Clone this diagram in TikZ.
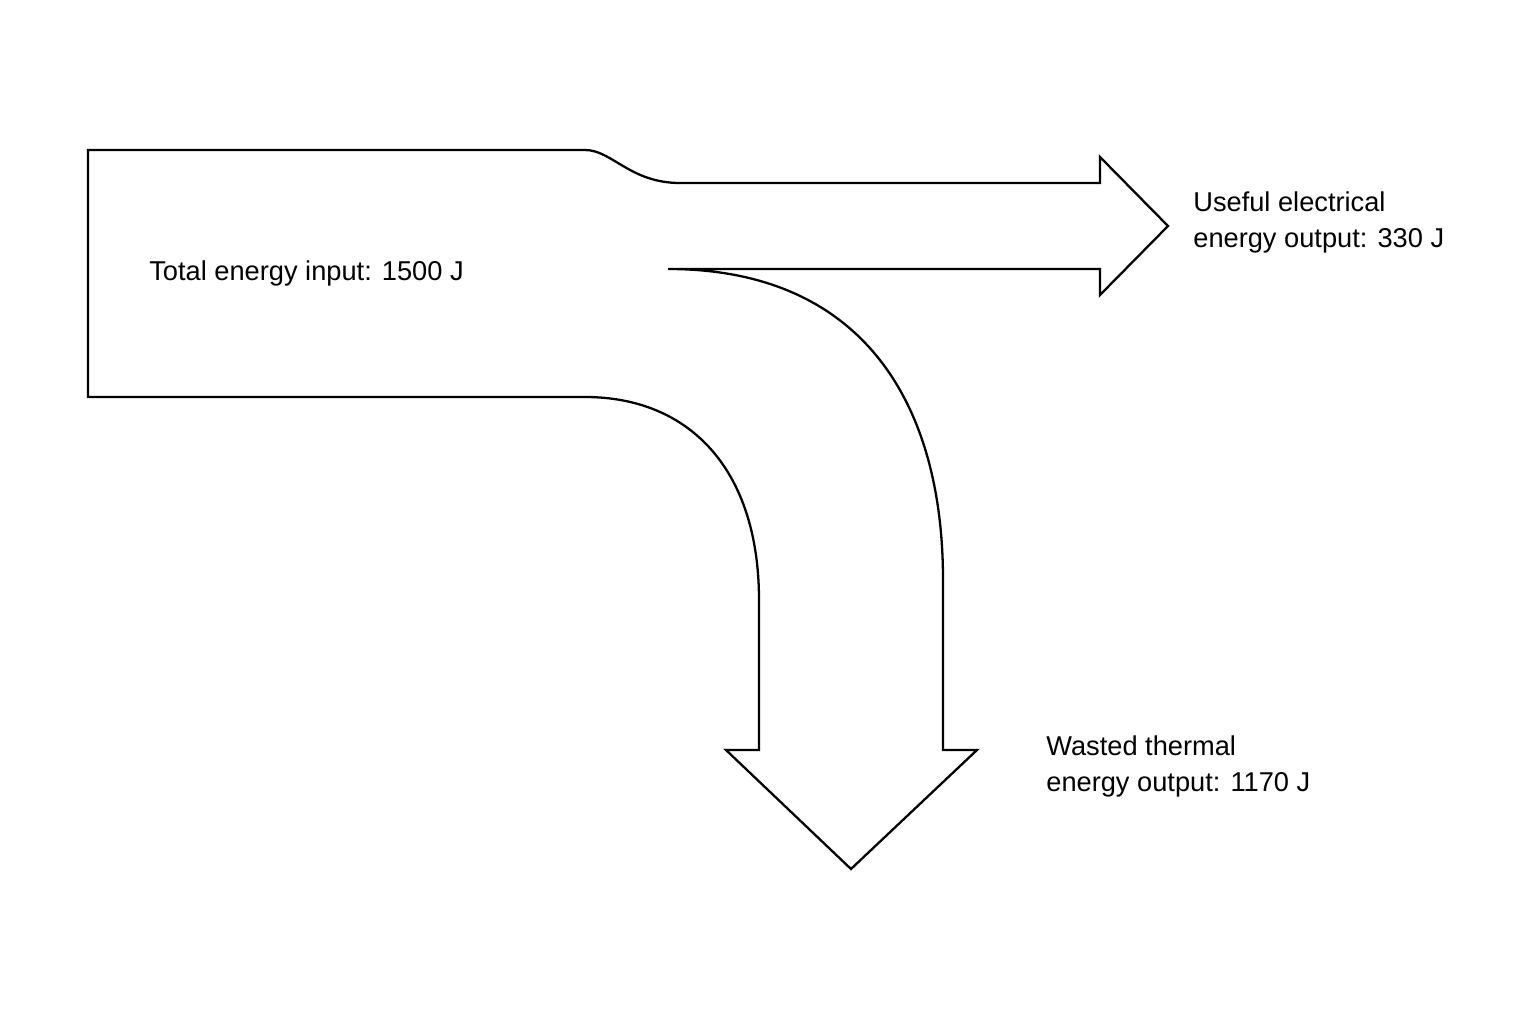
\documentclass[tikz,border=0pt]{standalone}
\usepackage{fontspec}
\setmainfont{Liberation Sans}
\begin{document}
\begin{tikzpicture}[x=0.02cm,y=-0.02cm,
    flow/.style={draw=black,line width=1.3pt,line join=miter},
    lbl/.style={anchor=west,align=left,font=\fontsize{15.5pt}{20.5pt}\selectfont,inner sep=0pt}]
    \useasboundingbox (0,0) rectangle (1536,1024);
    % the band: input splits into electrical (right) and thermal (down)
    \draw[flow] (88,150) -- (585,150)
        .. controls (612,150) and (630,183) .. (680,183) -- (1100,183)
        -- (1100,157) -- (1168,226) -- (1100,295) -- (1100,269) -- (668,269)
        .. controls (860,269) and (943,400) .. (943,580) -- (943,750)
        -- (977,750) -- (851,869) -- (726,750) -- (759,750) -- (759,600)
        .. controls (759,470) and (690,397) .. (585,397) -- (88,397) -- cycle;
    \node[lbl] (input) at (149,273) {Total energy input: 1500 J};
    \node[lbl] (useful) at (1193,222) {Useful electrical\\energy output: 330 J};
    \node[lbl] (wasted) at (1046,766) {Wasted thermal\\energy output: 1170 J};
\end{tikzpicture}
\end{document}
